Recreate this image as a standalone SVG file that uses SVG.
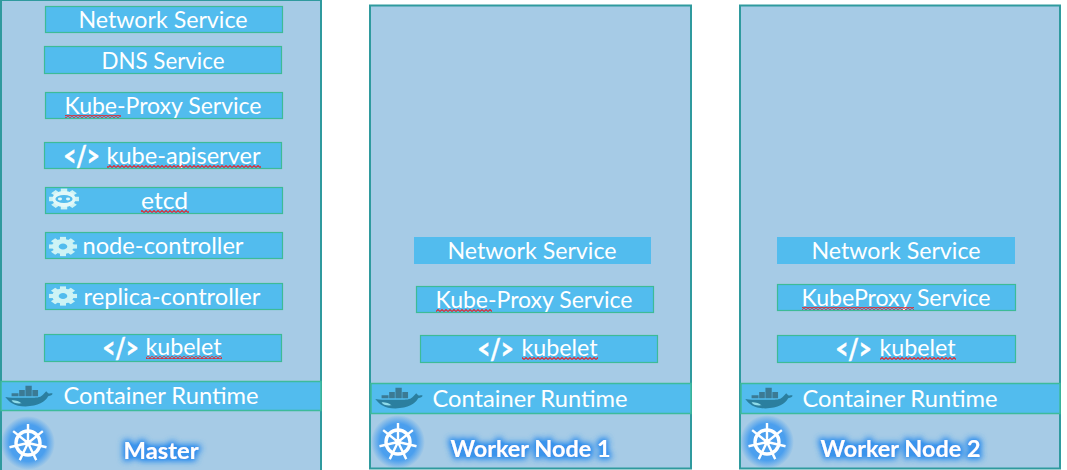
<svg xmlns="http://www.w3.org/2000/svg" width="1067" height="470" viewBox="0 0 1067 470">
<style>
.panel{fill:#a6cbe6;stroke:#2f9a9e;stroke-width:2}
.box{fill:#52bcee;stroke:#3dbb97;stroke-width:1.2}
.plain{fill:#52bcee}
.runtime{fill:#52bcee;stroke:#3dbb9b;stroke-width:1.5}
text{font-family:"Lato","Open Sans","Liberation Sans",sans-serif;fill:#fff;font-size:24px}
.title{font-weight:700;font-size:23px;filter:url(#glow)}
.tag{font-weight:700;font-size:29px;stroke:#fff;stroke-width:.6}
.sq{fill:url(#squig)}
.halo{fill:url(#haloGrad)}
</style>
<defs>
<radialGradient id="haloGrad">
<stop offset="0" stop-color="#4b9fee"/>
<stop offset=".68" stop-color="#4b9fee"/>
<stop offset="1" stop-color="#4b9fee" stop-opacity="0"/>
</radialGradient>
<filter id="glow" x="-40%" y="-80%" width="180%" height="260%">
<feMorphology in="SourceAlpha" operator="dilate" radius="2" result="m"/>
<feGaussianBlur in="m" stdDeviation="3" result="b"/>
<feFlood flood-color="#3a94ec"/>
<feComposite in2="b" operator="in" result="c"/>
<feComponentTransfer in="c" result="d"><feFuncA type="linear" slope="1.400"/></feComponentTransfer>
<feMerge><feMergeNode in="d"/><feMergeNode in="SourceGraphic"/></feMerge>
</filter>
<pattern id="squig" width="4" height="3" patternUnits="userSpaceOnUse">
<path d="M0 2.500L2 .5L4 2.500" fill="none" stroke="#e0282f" stroke-width="1.100"/>
</pattern>
<g id="wheel" fill="none" stroke="#fff">
<circle r="12" stroke-width="3.400"/>
<circle r="3.200" fill="#fff" stroke="none"/>
<path stroke-width="2.400" d="M0 0V-19"/>
<path stroke-width="2.400" d="M0 0V-19" transform="rotate(51.400)"/>
<path stroke-width="2.400" d="M0 0V-19" transform="rotate(102.900)"/>
<path stroke-width="2.400" d="M0 0V-19" transform="rotate(154.300)"/>
<path stroke-width="2.400" d="M0 0V-19" transform="rotate(205.700)"/>
<path stroke-width="2.400" d="M0 0V-19" transform="rotate(257.100)"/>
<path stroke-width="2.400" d="M0 0V-19" transform="rotate(308.600)"/>
</g>
<g id="teeth" fill="#cdf3f5">
<rect x="-2.800" y="-13" width="5.600" height="6"/>
<rect x="-2.800" y="-13" width="5.600" height="6" transform="rotate(45)"/>
<rect x="-2.800" y="-13" width="5.600" height="6" transform="rotate(90)"/>
<rect x="-2.800" y="-13" width="5.600" height="6" transform="rotate(135)"/>
<rect x="-2.800" y="-13" width="5.600" height="6" transform="rotate(180)"/>
<rect x="-2.800" y="-13" width="5.600" height="6" transform="rotate(225)"/>
<rect x="-2.800" y="-13" width="5.600" height="6" transform="rotate(270)"/>
<rect x="-2.800" y="-13" width="5.600" height="6" transform="rotate(315)"/>
</g>
<g id="gear">
<use href="#teeth"/>
<circle r="7" fill="none" stroke="#cdf3f5" stroke-width="6"/>
</g>
<g id="etcd-gear">
<use href="#teeth"/>
<circle r="10" fill="#e2f8f8"/>
<ellipse rx="7.500" ry="5" fill="#52bcee"/>
<circle cx="-3.500" r="1.800" fill="#e2f8f8"/>
<circle cx="3.500" r="1.800" fill="#e2f8f8"/>
</g>
<g id="whale">
<path fill="#2b7f9f" d="M-44 0C-30 2-12 1 2 1C10 1 14-1 18-6L21-9L24-6C28-5 30-7 31-5C31-3 28-2 24-1C20 7 8 15-12 15C-30 15-38 8-44 0Z"/>
<path fill="#8fdcea" d="M-34 5C-26 5-22 7-18 10C-26 11-32 9-34 5Z"/>
<path fill="#3b7a94" d="M-34-6H-23V-1H-34ZM-22-11H-13V-1H-22ZM-12-18H-2V-1H-12ZM-1-11H8V-1H-1Z"/>
</g>
</defs>

<g id="master">
<rect class="panel" x="1" y="0" width="320" height="472"/>
<g id="m-network"><rect class="box" x="45.500" y="6.500" width="237" height="26"/><text x="78.500" y="28" textLength="169" lengthAdjust="spacingAndGlyphs">Network Service</text></g>
<g id="m-dns"><rect class="box" x="44.500" y="46.500" width="237" height="27"/><text x="101.500" y="69" textLength="123" lengthAdjust="spacingAndGlyphs">DNS Service</text></g>
<g id="m-proxy"><rect class="box" x="45.500" y="92.500" width="237" height="26"/><text x="64.500" y="114" textLength="197" lengthAdjust="spacingAndGlyphs">Kube-Proxy Service</text><rect class="sq" x="65" y="115" width="56" height="3"/></g>
<g id="m-api"><rect class="box" x="44.500" y="142.500" width="237" height="26"/><text class="tag" x="63.500" y="166" textLength="36" lengthAdjust="spacingAndGlyphs">&lt;/&gt;</text><text x="106.500" y="164" textLength="154" lengthAdjust="spacingAndGlyphs">kube-apiserver</text><rect class="sq" x="107" y="165" width="154" height="3"/></g>
<g id="m-etcd"><rect class="box" x="45.500" y="187.500" width="237" height="26"/><use href="#etcd-gear" transform="translate(64 199) scale(1.150 .8)"/><text x="141" y="209" textLength="47" lengthAdjust="spacingAndGlyphs">etcd</text><rect class="sq" x="141" y="210" width="48" height="3"/></g>
<g id="m-node"><rect class="box" x="45.500" y="232.500" width="237" height="26"/><use href="#gear" transform="translate(63 246.500) scale(1.080 .74)"/><text x="82.500" y="254" textLength="161" lengthAdjust="spacingAndGlyphs">node-controller</text></g>
<g id="m-replica"><rect class="box" x="45.500" y="283.500" width="237" height="26"/><use href="#gear" transform="translate(63 296) scale(1.080 .74)"/><text x="83.500" y="305" textLength="177" lengthAdjust="spacingAndGlyphs">replica-controller</text></g>
<g id="m-kubelet"><rect class="box" x="44.500" y="334.500" width="237" height="27"/><text class="tag" x="102.500" y="358" textLength="36" lengthAdjust="spacingAndGlyphs">&lt;/&gt;</text><text x="145.500" y="355" textLength="76" lengthAdjust="spacingAndGlyphs">kubelet</text><rect class="sq" x="146" y="356" width="76" height="3"/></g>
<g id="m-runtime"><rect class="runtime" x="1" y="381.500" width="320" height="29"/><use href="#whale" transform="translate(33 397) scale(.63)"/><text x="63.500" y="404" textLength="195" lengthAdjust="spacingAndGlyphs">Container Runtime</text></g>
<g id="m-title"><circle class="halo" cx="28" cy="443" r="27"/><use href="#wheel" x="28" y="443"/><text class="title" x="123.500" y="459" textLength="75" lengthAdjust="spacingAndGlyphs">Master</text></g>
</g>

<g id="worker1">
<rect class="panel" x="370" y="5.500" width="321" height="463"/>
<g id="w1-network"><rect class="plain" x="414" y="237" width="237" height="27"/><text x="447.500" y="259" textLength="169" lengthAdjust="spacingAndGlyphs">Network Service</text></g>
<g id="w1-proxy"><rect class="box" x="416.500" y="286.500" width="237" height="26"/><text x="435.500" y="308" textLength="197" lengthAdjust="spacingAndGlyphs">Kube-Proxy Service</text><rect class="sq" x="436" y="309" width="56" height="3"/></g>
<g id="w1-kubelet"><rect class="box" x="420.500" y="335.500" width="237" height="27"/><text class="tag" x="477.500" y="359" textLength="36" lengthAdjust="spacingAndGlyphs">&lt;/&gt;</text><text x="521.500" y="356" textLength="76" lengthAdjust="spacingAndGlyphs">kubelet</text><rect class="sq" x="522" y="357" width="76" height="3"/></g>
<g id="w1-runtime"><rect class="runtime" x="371" y="383.500" width="320" height="30"/><use href="#whale" transform="translate(403 399) scale(.63)"/><text x="432.500" y="407" textLength="195" lengthAdjust="spacingAndGlyphs">Container Runtime</text></g>
<g id="w1-title"><circle class="halo" cx="398" cy="442" r="27"/><use href="#wheel" x="398" y="442"/><text class="title" x="450.500" y="457" textLength="160" lengthAdjust="spacingAndGlyphs">Worker Node 1</text></g>
</g>

<g id="worker2">
<rect class="panel" x="740" y="5.500" width="320" height="463"/>
<g id="w2-network"><rect class="plain" x="777" y="237" width="238" height="27"/><text x="811.500" y="259" textLength="169" lengthAdjust="spacingAndGlyphs">Network Service</text></g>
<g id="w2-proxy"><rect class="box" x="777.500" y="284.500" width="238" height="26"/><text x="801.500" y="306" textLength="189" lengthAdjust="spacingAndGlyphs">KubeProxy Service</text><rect class="sq" x="802" y="307" width="112" height="3"/></g>
<g id="w2-kubelet"><rect class="box" x="777.500" y="335.500" width="238" height="27"/><text class="tag" x="835.500" y="359" textLength="36" lengthAdjust="spacingAndGlyphs">&lt;/&gt;</text><text x="879.500" y="356" textLength="76" lengthAdjust="spacingAndGlyphs">kubelet</text><rect class="sq" x="880" y="357" width="76" height="3"/></g>
<g id="w2-runtime"><rect class="runtime" x="741" y="383.500" width="319" height="30"/><use href="#whale" transform="translate(773 399) scale(.63)"/><text x="802.500" y="407" textLength="195" lengthAdjust="spacingAndGlyphs">Container Runtime</text></g>
<g id="w2-title"><circle class="halo" cx="767" cy="442" r="27"/><use href="#wheel" x="767" y="442"/><text class="title" x="820.500" y="457" textLength="160" lengthAdjust="spacingAndGlyphs">Worker Node 2</text></g>
</g>

<g id="connectors"></g>
</svg>
